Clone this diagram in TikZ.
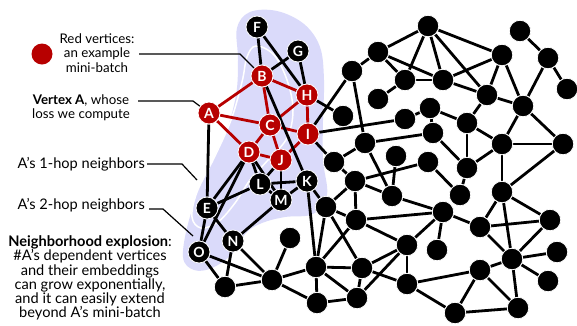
\documentclass[tikz,border=0pt]{standalone}
\usepackage{fontspec}
\setmainfont{Lato}
\definecolor{vred}{RGB}{183,0,0}
\definecolor{lav}{RGB}{218,218,250}
\pgfdeclarelayer{blob}
\pgfdeclarelayer{edges}
\pgfsetlayers{blob,edges,main}
\tikzset{
 vtx/.style={circle, fill=black, draw=white, line width=0.8pt, minimum size=21.5pt, inner sep=0pt},
 lvtx/.style={vtx, minimum size=22pt, text=white, font=\bfseries\fontsize{14}{14}\selectfont},
 rvtx/.style={lvtx, fill=vred},
 gedge/.style={line width=2.8pt, black},
 redge/.style={line width=2.8pt, vred},
 lead/.style={line width=1.2pt, black},
 annot/.style={font=\fontsize{13.3}{14.4}\selectfont, align=center, inner sep=0pt},
 bigannot/.style={font=\fontsize{14.6}{14.2}\selectfont, align=center, inner sep=0pt},
}
\begin{document}
\begin{tikzpicture}[x=1pt,y=-1pt]
\useasboundingbox (0,0) rectangle (577,325);
% lettered vertices
\node[rvtx] (A) at (209,113) {A};
\node[rvtx] (B) at (262,76) {B};
\node[rvtx] (C) at (270,125) {C};
\node[rvtx] (D) at (249,152) {D};
\node[rvtx] (H) at (307,95) {H};
\node[rvtx] (I) at (308,134) {I};
\node[rvtx] (J) at (281,160) {J};
\node[lvtx] (F) at (257,27) {F};
\node[lvtx] (G) at (298,51) {G};
\node[lvtx] (E) at (207,208) {E};
\node[lvtx] (K) at (307,181) {K};
\node[lvtx] (L) at (260,184) {L};
\node[lvtx] (M) at (281,200) {M};
\node[lvtx] (N) at (233,241) {N};
\node[lvtx] (O) at (199,252) {O};
% plain vertices
\foreach \n/\x/\y in {q/290/238, b1/225/287, b2/272/280, p1/316/267, p2/317/303,
  y1/334/162, x1/343/116, v1/352/71, u1/378/52, w2/378/99, v2/405/80, x2/405/119,
  t1/428/26, v3/443/80, w4/430/108, x4/433/133, x5/365/143, y2/396/156, y3/428/162,
  z1/355/181, z2/326/207, z3/356/220, r1/392/196, y4/467/168, r2/460/195, x3/467/123,
  w1/487/95, u2/502/55, t2/520/31, u3/548/58, v4/567/89, w3/523/106, x6/502/144,
  x7/563/144, r3/502/192, s1/443/212, s2/480/227, s3/550/220, s4/407/245, s5/437/250,
  s6/512/259, s7/557/252, p3/362/268, p4/357/298, p5/407/284, p6/480/270, p7/548/281,
  p8/455/313, p9/518/308}
  {\node[vtx] (\n) at (\x,\y) {};}
% annotations
\node[circle, fill=vred, minimum size=21pt, inner sep=0pt] (reddot) at (42,54) {};
\node[annot] (t-red) at (97,53) {Red vertices:\\an example\\mini-batch};
\node[annot] (t-a) at (81,108) {\textbf{Vertex A}, whose\\loss we compute};
\node[bigannot, anchor=east] (t-1hop) at (145,164) {A's 1-hop neighbors};
\node[bigannot, anchor=east] (t-2hop) at (145,205) {A's 2-hop neighbors};
\node[bigannot] (t-expl) at (90,278) {\textbf{Neighborhood explosion}:\\\#A's dependent vertices\\and their embeddings\\can grow exponentially,\\and it can easily extend\\beyond A's mini-batch};
\coordinate (l1s) at (139,54);
\coordinate (l1m) at (240,54);
\coordinate (l2s) at (138,101);
\coordinate (l2m) at (193,101);
\coordinate (l3s) at (147,164);
\coordinate (l3m) at (182,164);
\coordinate (l3e) at (197,180);
\coordinate (l4s) at (149,209);
\coordinate (l4m) at (163,209);
\coordinate (l4e) at (193,236);
\draw[lead] (l1s) -- (l1m) -- (B);
\draw[lead] (l2s) -- (l2m) -- (A);
\draw[lead] (l3s) -- (l3m) -- (l3e);
\draw[lead] (l4s) -- (l4m) -- (l4e);
\begin{pgfonlayer}{blob}
\fill[lav] plot[smooth cycle, tension=0.6] coordinates {(250,12) (277,11) (304,24) (320,47) (324,80) (323,120) (323,160) (327,195) (313,214) (285,217) (262,223) (246,233) (232,254) (212,268) (194,270) (183,257) (189,220) (204,180) (225,135) (236,95) (238,60) (237,28)};
\filldraw[fill=lav, draw=white, line width=1.5pt] plot[smooth cycle, tension=0.6] coordinates {(256,46) (274,55) (287,80) (293,110) (287,138) (268,160) (250,180) (235,203) (218,222) (201,228) (192,217) (197,192) (214,158) (231,120) (242,82) (247,57)};
\end{pgfonlayer}
\begin{pgfonlayer}{edges}
\foreach \a/\b in {A/B, A/C, A/D, B/C, B/H, C/H, C/I, C/D, C/J, D/J, J/I, H/I}
  \draw[redge] (\a) -- (\b);
\foreach \a/\b in {F/B, F/H, G/B, G/H, B/K, A/E, E/D, E/L, E/O, E/N, D/O, D/L, D/M,
  J/L, J/M, L/K, L/M, M/K, M/N, K/z2, K/p1, O/b1, O/b2, N/b1, N/b2, b1/b2, b2/q,
  b2/p1, b2/p2, p1/p2, H/x1, I/v1, I/x2, I/y1,
  v1/u1, v1/x5, u1/t1, u1/v2, u1/v3, v2/v3, v2/w2, v2/t1, t1/v3, t1/w1, t1/u2,
  v3/w1, v3/u2, u2/w1, u2/w3, t2/u3, u3/v4, u3/w3, w1/w3, w1/x3, w3/x6, w3/x7,
  x6/x7, x6/x3, x6/y4, x6/r3, x7/r3, x3/w4, x3/y4, w4/x2, w4/x4, x4/x5, x4/y4,
  x5/y1, x5/r1, y2/r1, y1/z1, z1/y3, z1/r1, z1/z3, z1/z2, z2/z3, z2/p1, z2/p3,
  z3/p1, z3/s4, r1/s1, z3/s1, y3/r2, y4/r2, s1/s4, s1/s5, s1/s2, r3/s2, r3/s3,
  r3/s6, s2/s3, s2/s6, s3/s6, s6/s7, s6/p7, s6/p6, s6/p9, p6/p5, p6/p8, p6/p9,
  p8/p9, p8/p5, p5/s4, p5/p3, s4/p3, s4/p4, p1/p3, p1/p4, p3/p4, p2/p4}
  \draw[gedge] (\a) -- (\b);
\end{pgfonlayer}
\end{tikzpicture}
\end{document}
